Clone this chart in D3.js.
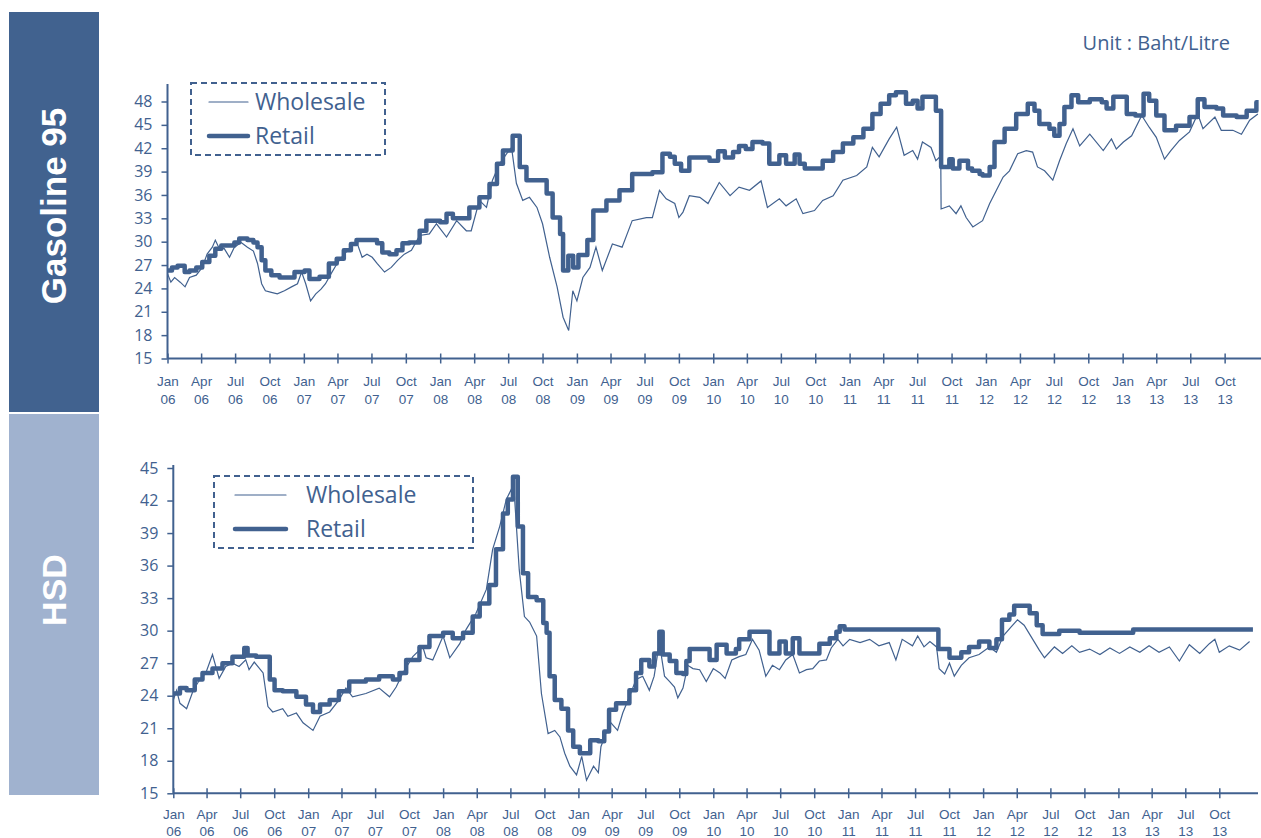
<!DOCTYPE html>
<html>
<head>
<meta charset="utf-8">
<script src="https://cdn.jsdelivr.net/npm/d3@7"></script>
<style>
  body { margin: 0; background: #fff; }
  svg { display: block; font-family: "Open Sans", sans-serif; }
</style>
</head>
<body>
<svg id="chart" width="1261" height="838"></svg>
<script>
// Gasoline 95 prices (Baht/Litre)
const g95Wholesale = [
  ["2006-01-01",25.9],["2006-01-10",24.8],["2006-01-20",25.4],["2006-02-04",24.8],["2006-02-17",24.2],
  ["2006-03-01",25.4],["2006-03-19",25.7],["2006-04-04",26.7],["2006-04-17",28.4],["2006-05-01",29.3],
  ["2006-05-09",30.2],["2006-05-20",29.1],["2006-06-02",29.1],["2006-06-16",28.0],["2006-06-29",29.3],
  ["2006-07-17",29.9],["2006-08-03",29.3],["2006-08-19",28.8],["2006-08-30",27.2],["2006-09-10",24.6],
  ["2006-09-20",23.7],["2006-10-06",23.5],["2006-10-22",23.3],["2006-11-10",23.7],["2006-11-29",24.2],
  ["2006-12-15",24.6],["2006-12-26",26.1],["2007-01-06",24.6],["2007-01-19",22.4],["2007-02-02",23.3],
  ["2007-02-16",23.9],["2007-02-28",24.6],["2007-03-15",25.9],["2007-03-31",27.2],["2007-04-19",28.4],
  ["2007-05-07",29.3],["2007-05-23",29.9],["2007-06-06",28.0],["2007-06-19",28.4],["2007-07-03",28.0],
  ["2007-07-16",27.2],["2007-08-05",26.1],["2007-08-23",26.7],["2007-09-09",27.6],["2007-09-27",28.4],
  ["2007-10-16",28.9],["2007-11-07",30.8],["2007-12-03",31.0],["2007-12-22",32.3],["2008-01-18",30.6],
  ["2008-02-14",32.7],["2008-03-11",31.4],["2008-03-24",31.4],["2008-04-15",35.3],["2008-05-04",34.4],
  ["2008-05-20",37.9],["2008-06-08",40.0],["2008-06-27",41.3],["2008-07-10",42.1],["2008-07-23",37.5],
  ["2008-08-09",35.3],["2008-08-27",35.7],["2008-09-16",34.4],["2008-10-01",32.3],["2008-10-20",28.0],
  ["2008-11-09",24.2],["2008-11-25",20.3],["2008-12-10",18.6],["2008-12-21",23.7],["2009-01-01",22.4],
  ["2009-01-17",25.4],["2009-02-05",26.7],["2009-02-21",29.3],["2009-03-10",26.3],["2009-04-06",29.7],
  ["2009-05-02",29.3],["2009-05-29",32.7],["2009-07-06",33.1],["2009-07-22",33.1],["2009-08-10",36.6],
  ["2009-08-28",35.5],["2009-09-20",34.9],["2009-10-01",33.1],["2009-10-12",33.8],["2009-10-29",35.9],
  ["2009-11-26",35.7],["2009-12-18",34.9],["2010-01-17",37.6],["2010-02-15",35.9],["2010-03-11",37.0],
  ["2010-04-08",36.6],["2010-05-09",37.8],["2010-05-26",34.4],["2010-06-27",35.5],["2010-07-15",34.6],
  ["2010-08-11",35.5],["2010-08-29",33.6],["2010-09-29",34.0],["2010-10-21",35.3],["2010-11-18",35.9],
  ["2010-12-14",37.9],["2011-01-20",38.5],["2011-02-16",39.6],["2011-03-03",42.1],["2011-03-21",40.9],
  ["2011-04-17",43.2],["2011-05-07",44.7],["2011-05-27",41.1],["2011-06-19",41.7],["2011-07-02",40.6],
  ["2011-07-15",42.8],["2011-08-07",42.1],["2011-08-20",40.4],["2011-09-02",41.0],["2011-09-03",34.2],
  ["2011-09-25",34.6],["2011-10-13",33.6],["2011-10-26",34.6],["2011-11-09",33.1],["2011-11-27",31.9],
  ["2011-12-23",32.7],["2012-01-11",34.9],["2012-01-29",36.6],["2012-02-16",38.3],["2012-03-04",39.1],
  ["2012-03-26",41.3],["2012-04-18",41.7],["2012-05-05",41.5],["2012-05-18",39.6],["2012-06-06",39.1],
  ["2012-06-28",37.9],["2012-07-16",40.4],["2012-08-03",42.6],["2012-08-21",44.5],["2012-09-08",42.3],
  ["2012-10-05",43.8],["2012-11-10",41.7],["2012-12-02",43.2],["2012-12-15",41.9],["2013-01-03",42.8],
  ["2013-01-25",43.6],["2013-02-21",46.2],["2013-03-13",44.7],["2013-04-01",43.4],["2013-04-23",40.6],
  ["2013-05-10",41.7],["2013-06-02",43.0],["2013-06-29",44.1],["2013-07-21",46.4],["2013-08-04",44.5],
  ["2013-09-05",46.0],["2013-09-22",44.3],["2013-10-23",44.3],["2013-11-15",43.8],["2013-12-07",45.6],
  ["2013-12-29",46.4]
];

const g95Retail = [
  ["2006-01-01",26.3],["2006-01-13",26.7],["2006-01-28",26.9],["2006-02-16",26.1],["2006-03-01",26.3],
  ["2006-03-19",26.7],["2006-04-04",27.4],["2006-04-23",28.2],["2006-05-09",29.1],["2006-05-25",29.5],
  ["2006-06-29",29.9],["2006-07-12",30.4],["2006-08-03",30.2],["2006-08-19",29.9],["2006-08-30",29.3],
  ["2006-09-10",27.6],["2006-09-20",26.3],["2006-10-06",25.7],["2006-10-28",25.4],["2006-12-07",26.1],
  ["2007-01-03",26.3],["2007-01-16",25.2],["2007-02-12",25.5],["2007-03-09",27.2],["2007-03-30",27.8],
  ["2007-04-18",28.9],["2007-05-07",29.7],["2007-05-22",30.2],["2007-07-16",29.8],["2007-07-30",28.6],
  ["2007-08-18",28.4],["2007-09-06",28.9],["2007-09-22",29.8],["2007-10-10",29.9],["2007-11-07",31.4],
  ["2007-11-25",32.7],["2008-01-01",32.5],["2008-01-18",33.6],["2008-02-04",33.0],["2008-03-19",34.4],
  ["2008-04-15",35.7],["2008-05-12",37.4],["2008-06-01",40.0],["2008-06-17",41.7],["2008-07-13",43.6],
  ["2008-08-01",39.6],["2008-08-19",37.9],["2008-10-12",36.2],["2008-10-28",33.1],["2008-11-17",31.0],
  ["2008-11-25",26.3],["2008-12-09",28.2],["2008-12-22",26.7],["2009-01-05",28.3],["2009-01-29",30.2],
  ["2009-02-14",34.0],["2009-03-21",35.3],["2009-04-25",36.6],["2009-05-29",38.7],["2009-07-22",38.9],
  ["2009-08-18",41.3],["2009-09-07",40.9],["2009-09-20",40.0],["2009-10-07",39.1],["2009-10-29",40.8],
  ["2009-12-22",40.4],["2010-01-14",41.6],["2010-02-01",40.8],["2010-02-23",41.5],["2010-03-11",42.3],
  ["2010-03-29",41.9],["2010-04-16",42.8],["2010-05-13",42.6],["2010-05-31",40.0],["2010-06-27",41.1],
  ["2010-07-15",40.0],["2010-08-07",41.2],["2010-08-20",40.0],["2010-09-03",39.4],["2010-10-21",40.4],
  ["2010-11-18",41.5],["2010-12-14",42.6],["2011-01-11",43.4],["2011-02-07",44.5],["2011-03-03",46.4],
  ["2011-03-25",47.7],["2011-04-17",48.8],["2011-05-05",49.2],["2011-06-01",47.7],["2011-06-19",48.1],
  ["2011-07-02",47.1],["2011-07-15",48.6],["2011-08-20",46.8],["2011-09-03",39.6],["2011-09-25",40.6],
  ["2011-10-04",39.4],["2011-10-22",40.4],["2011-11-14",39.4],["2011-11-25",39.1],["2011-12-15",38.7],
  ["2011-12-23",38.5],["2012-01-11",39.6],["2012-01-24",42.8],["2012-02-20",44.5],["2012-03-22",46.4],
  ["2012-04-22",47.7],["2012-05-10",46.8],["2012-05-23",45.1],["2012-06-19",44.5],["2012-07-02",43.6],
  ["2012-07-16",45.1],["2012-07-29",47.3],["2012-08-17",48.8],["2012-09-04",47.9],["2012-10-05",48.3],
  ["2012-11-06",47.9],["2012-11-19",47.1],["2012-12-07",48.6],["2013-01-12",46.4],["2013-02-04",46.2],
  ["2013-02-26",49.0],["2013-03-13",48.1],["2013-04-01",46.2],["2013-04-23",44.3],["2013-05-24",44.9],
  ["2013-06-29",46.0],["2013-07-21",48.3],["2013-08-08",47.3],["2013-09-09",47.1],["2013-09-27",46.2],
  ["2013-11-02",46.0],["2013-11-29",46.8],["2013-12-25",47.9],["2013-12-31",47.9]
];

// HSD prices (Baht/Litre)
const hsdWholesale = [
  ["2006-01-01",23.6],["2006-01-10",24.5],["2006-01-19",23.3],["2006-02-06",22.8],["2006-02-24",24.5],
  ["2006-03-12",25.4],["2006-03-30",26.1],["2006-04-17",27.8],["2006-05-05",25.6],["2006-05-23",26.7],
  ["2006-06-10",27.0],["2006-06-28",26.7],["2006-07-16",27.3],["2006-07-25",26.4],["2006-08-08",27.1],
  ["2006-09-01",26.1],["2006-09-14",23.0],["2006-09-27",22.5],["2006-10-24",22.8],["2006-11-07",22.1],
  ["2006-11-30",22.4],["2006-12-18",21.5],["2007-01-14",20.8],["2007-02-02",22.1],["2007-02-28",22.5],
  ["2007-03-25",23.6],["2007-04-13",24.7],["2007-05-01",23.9],["2007-06-06",24.2],["2007-07-12",24.7],
  ["2007-08-09",23.9],["2007-08-27",24.8],["2007-09-14",26.1],["2007-10-11",27.6],["2007-11-07",28.5],
  ["2007-11-16",27.5],["2007-12-04",27.3],["2008-01-01",29.5],["2008-01-19",27.5],["2008-02-15",28.8],
  ["2008-03-03",30.1],["2008-03-30",31.6],["2008-04-27",33.8],["2008-05-14",37.5],["2008-06-02",39.6],
  ["2008-06-20",42.1],["2008-07-03",43.0],["2008-07-12",42.4],["2008-07-25",35.6],["2008-08-08",31.3],
  ["2008-08-22",30.8],["2008-09-10",29.5],["2008-09-23",24.2],["2008-10-11",20.5],["2008-10-29",20.8],
  ["2008-11-12",20.2],["2008-11-25",18.7],["2008-12-09",17.5],["2008-12-27",16.7],["2009-01-10",18.4],
  ["2009-01-23",16.2],["2009-02-11",17.5],["2009-02-24",16.9],["2009-03-03",19.3],["2009-03-16",20.5],
  ["2009-03-30",21.5],["2009-04-17",20.8],["2009-05-01",22.4],["2009-05-19",23.9],["2009-06-06",25.5],
  ["2009-06-24",25.8],["2009-07-12",24.5],["2009-07-25",25.8],["2009-08-08",28.9],["2009-08-22",25.8],
  ["2009-09-05",25.3],["2009-09-18",24.8],["2009-09-27",23.8],["2009-10-11",24.7],["2009-10-24",26.8],
  ["2009-11-07",26.5],["2009-11-25",26.4],["2009-12-13",25.3],["2010-01-01",26.5],["2010-01-19",26.1],
  ["2010-02-02",25.6],["2010-02-20",27.3],["2010-03-12",27.6],["2010-03-30",27.8],["2010-04-17",29.2],
  ["2010-05-05",28.2],["2010-05-23",25.8],["2010-06-10",26.8],["2010-06-29",26.4],["2010-07-16",27.3],
  ["2010-08-04",27.8],["2010-08-22",26.1],["2010-09-10",26.4],["2010-09-27",26.5],["2010-10-15",27.2],
  ["2010-11-03",27.3],["2010-11-16",28.4],["2010-12-04",29.2],["2010-12-18",28.6],["2011-01-05",29.2],
  ["2011-02-02",28.9],["2011-02-28",29.2],["2011-03-25",28.6],["2011-04-22",28.9],["2011-05-10",27.3],
  ["2011-05-27",29.2],["2011-06-24",28.6],["2011-07-08",29.5],["2011-07-25",28.5],["2011-08-10",29.0],
  ["2011-08-28",28.5],["2011-09-04",26.5],["2011-09-19",26.0],["2011-10-02",27.0],["2011-10-15",25.8],
  ["2011-11-03",26.8],["2011-11-24",27.5],["2011-12-21",27.8],["2012-01-18",28.5],["2012-02-06",28.0],
  ["2012-02-24",29.5],["2012-03-18",30.4],["2012-04-03",31.0],["2012-04-21",30.5],["2012-05-09",29.5],
  ["2012-06-01",28.2],["2012-06-15",27.5],["2012-07-12",28.5],["2012-08-03",27.9],["2012-08-28",28.6],
  ["2012-09-18",28.0],["2012-10-15",28.3],["2012-11-12",27.8],["2012-12-09",28.4],["2013-01-04",27.9],
  ["2013-02-01",28.5],["2013-02-28",28.0],["2013-03-25",28.6],["2013-04-21",28.0],["2013-05-19",28.5],
  ["2013-06-15",27.2],["2013-07-12",28.7],["2013-08-09",27.9],["2013-09-04",28.8],["2013-09-19",29.2],
  ["2013-10-01",28.0],["2013-10-28",28.6],["2013-11-25",28.2],["2013-12-22",29.0]
];

const hsdRetail = [
  ["2006-01-01",24.2],["2006-01-19",24.7],["2006-02-06",24.5],["2006-02-28",25.5],["2006-03-21",26.1],
  ["2006-04-17",26.5],["2006-05-14",27.0],["2006-06-10",27.6],["2006-07-12",28.4],["2006-07-21",27.7],
  ["2006-08-13",27.6],["2006-09-19",25.5],["2006-10-02",24.5],["2006-10-24",24.4],["2006-11-30",23.9],
  ["2006-12-26",23.2],["2007-01-14",22.5],["2007-02-02",23.2],["2007-02-28",23.6],["2007-03-25",24.4],
  ["2007-04-22",25.3],["2007-06-06",25.5],["2007-07-12",25.8],["2007-08-18",25.5],["2007-09-05",26.1],
  ["2007-09-23",27.3],["2007-10-29",28.5],["2007-11-25",29.5],["2008-01-01",29.8],["2008-01-27",29.3],
  ["2008-02-24",29.8],["2008-03-21",31.3],["2008-04-09",32.5],["2008-05-05",34.2],["2008-05-23",37.5],
  ["2008-06-11",40.8],["2008-06-24",42.1],["2008-07-08",44.2],["2008-07-21",39.6],["2008-08-04",35.3],
  ["2008-08-18",33.1],["2008-09-10",32.8],["2008-09-28",30.7],["2008-10-07",29.8],["2008-10-15",25.8],
  ["2008-10-29",23.6],["2008-11-16",22.8],["2008-12-04",20.8],["2008-12-18",19.3],["2009-01-05",18.7],
  ["2009-02-02",19.9],["2009-02-24",19.8],["2009-03-12",20.7],["2009-03-25",22.7],["2009-04-13",23.3],
  ["2009-05-19",24.5],["2009-06-06",26.1],["2009-06-20",27.3],["2009-07-12",26.7],["2009-07-25",27.9],
  ["2009-08-08",29.9],["2009-08-17",27.8],["2009-09-05",27.2],["2009-09-23",26.1],["2009-10-11",26.0],
  ["2009-10-20",27.2],["2009-10-29",28.3],["2009-12-22",27.3],["2010-01-10",28.7],["2010-02-06",27.9],
  ["2010-03-03",28.3],["2010-03-12",29.2],["2010-04-09",29.9],["2010-06-02",27.9],["2010-06-29",29.0],
  ["2010-07-16",27.9],["2010-08-04",29.3],["2010-08-22",27.9],["2010-10-15",28.8],["2010-11-12",29.3],
  ["2010-11-30",29.9],["2010-12-09",30.4],["2010-12-22",30.1],["2011-09-02",28.3],["2011-10-02",27.5],
  ["2011-11-03",28.0],["2011-11-24",28.5],["2011-12-21",29.0],["2012-01-18",28.4],["2012-02-06",29.2],
  ["2012-02-21",31.0],["2012-03-12",31.5],["2012-03-25",32.3],["2012-05-06",31.6],["2012-05-25",30.5],
  ["2012-06-10",29.7],["2012-07-25",30.0],["2012-09-18",29.8],["2013-02-10",30.1],["2013-12-31",30.1]
];

const monthLabels = ["Jan", "Apr", "Jul", "Oct"];
const g95Ticks = d3.range(15, 49, 3);
const hsdTicks = d3.range(15, 46, 3);

const blue = "#41618f";
const parse = d3.timeParse("%Y-%m-%d");
const svg = d3.select("#chart");

// side panels
svg.append("rect").attr("x", 9).attr("y", 12).attr("width", 90).attr("height", 400).attr("fill", "#41628f");
svg.append("rect").attr("x", 9).attr("y", 414).attr("width", 90).attr("height", 381).attr("fill", "#a0b2cf");

svg.append("text")
  .attr("transform", "translate(66,206) rotate(-90)")
  .attr("text-anchor", "middle")
  .attr("fill", "#fff")
  .style("font-family", "'Liberation Sans', Arial, sans-serif")
  .style("font-weight", "bold")
  .style("font-size", "35px")
  .text("Gasoline 95");

svg.append("text")
  .attr("transform", "translate(66,590) rotate(-90)")
  .attr("text-anchor", "middle")
  .attr("fill", "#fff")
  .style("font-family", "'Liberation Sans', Arial, sans-serif")
  .style("font-weight", "bold")
  .style("font-size", "34px")
  .text("HSD");

svg.append("text")
  .attr("x", 1230).attr("y", 50)
  .attr("text-anchor", "end")
  .attr("fill", blue)
  .style("font-size", "20px")
  .text("Unit : Baht/Litre");

function drawPanel(cfg) {
  const x = d3.scaleTime()
    .domain([new Date(2006, 0, 1), new Date(2014, 0, 1)])
    .range([cfg.x0, cfg.x1]);
  const y = d3.scaleLinear()
    .domain([15, cfg.yTicks[cfg.yTicks.length - 1]])
    .range([cfg.yBottom, cfg.yTop]);

  const g = svg.append("g");

  // y axis
  const yAxis = d3.axisLeft(y).tickValues(cfg.yTicks).tickSize(6).tickPadding(9);
  const ya = g.append("g").attr("transform", `translate(${cfg.x0},0)`).call(yAxis);
  ya.select(".domain").remove();
  ya.selectAll("line").attr("stroke", blue).attr("stroke-width", 1.5);
  ya.selectAll("text").attr("fill", blue).style("font-size", "16px")
    .style("font-family", "'Open Sans', sans-serif");
  g.append("line")
    .attr("x1", cfg.x0).attr("x2", cfg.x0)
    .attr("y1", cfg.axisTop).attr("y2", cfg.yBottom)
    .attr("stroke", blue).attr("stroke-width", 2);

  // x axis
  const months = d3.timeMonth.every(3).range(new Date(2006, 0, 1), new Date(2014, 0, 1));
  const xa = g.append("g").attr("transform", `translate(0,${cfg.yBottom})`)
    .call(d3.axisBottom(x).tickValues(months).tickSize(5).tickFormat(""));
  xa.select(".domain").remove();
  xa.selectAll(".tick line").attr("y1", -5).attr("stroke", blue).attr("stroke-width", 1.5);
  xa.selectAll(".tick").each(function (d) {
    const t = d3.select(this);
    t.append("text").attr("y", cfg.label1).attr("fill", blue).attr("text-anchor", "middle")
      .style("font-size", "13.5px").text(monthLabels[d.getMonth() / 3]);
    t.append("text").attr("y", cfg.label2).attr("fill", blue).attr("text-anchor", "middle")
      .style("font-size", "13.5px").text(d3.timeFormat("%y")(d));
  });
  g.append("line")
    .attr("x1", cfg.x0).attr("x2", cfg.axisRight)
    .attr("y1", cfg.yBottom).attr("y2", cfg.yBottom)
    .attr("stroke", blue).attr("stroke-width", 2);

  // series
  const wholesale = cfg.wholesale.map(d => ({ date: parse(d[0]), value: d[1] }));
  const retail = cfg.retail.map(d => ({ date: parse(d[0]), value: d[1] }));

  g.append("path")
    .datum(retail)
    .attr("fill", "none")
    .attr("stroke", blue)
    .attr("stroke-width", 4.5)
    .attr("stroke-linejoin", "round")
    .attr("d", d3.line().curve(d3.curveStepAfter).x(d => x(d.date)).y(d => y(d.value)));

  g.append("path")
    .datum(wholesale)
    .attr("fill", "none")
    .attr("stroke", blue)
    .attr("stroke-width", 1.2)
    .attr("d", d3.line().x(d => x(d.date)).y(d => y(d.value)));

  // legend
  const L = cfg.legend;
  const lg = g.append("g");
  lg.append("rect")
    .attr("x", L.x).attr("y", L.y).attr("width", L.w).attr("height", L.h)
    .attr("fill", "#fff").attr("stroke", blue).attr("stroke-width", 2)
    .attr("stroke-dasharray", "6,4");
  const items = [
    { label: "Wholesale", width: 1.2, dy: L.row1 },
    { label: "Retail", width: 4.5, dy: L.row2 }
  ];
  items.forEach(it => {
    lg.append("line")
      .attr("x1", L.lineX1).attr("x2", L.lineX2)
      .attr("y1", L.y + it.dy).attr("y2", L.y + it.dy)
      .attr("stroke", blue).attr("stroke-width", it.width)
      .attr("stroke-linecap", "round");
    lg.append("text")
      .attr("x", L.textX).attr("y", L.y + it.dy + 8)
      .attr("fill", blue)
      .style("font-size", "23px")
      .text(it.label);
  });
}

drawPanel({
  x0: 167.5, x1: 1259, axisRight: 1261,
  yBottom: 358.5, yTop: 101.5, axisTop: 84,
  yTicks: g95Ticks, label1: 27, label2: 45,
  wholesale: g95Wholesale, retail: g95Retail,
  legend: { x: 191, y: 83, w: 194, h: 72, row1: 19, row2: 53, lineX1: 209, lineX2: 248, textX: 255 }
});

drawPanel({
  x0: 173.3, x1: 1253.3, axisRight: 1258,
  yBottom: 793.3, yTop: 468, axisTop: 465,
  yTicks: hsdTicks, label1: 26, label2: 43,
  wholesale: hsdWholesale, retail: hsdRetail,
  legend: { x: 214, y: 476, w: 259, h: 72, row1: 19, row2: 53, lineX1: 235, lineX2: 286, textX: 306 }
});
</script>
</body>
</html>
